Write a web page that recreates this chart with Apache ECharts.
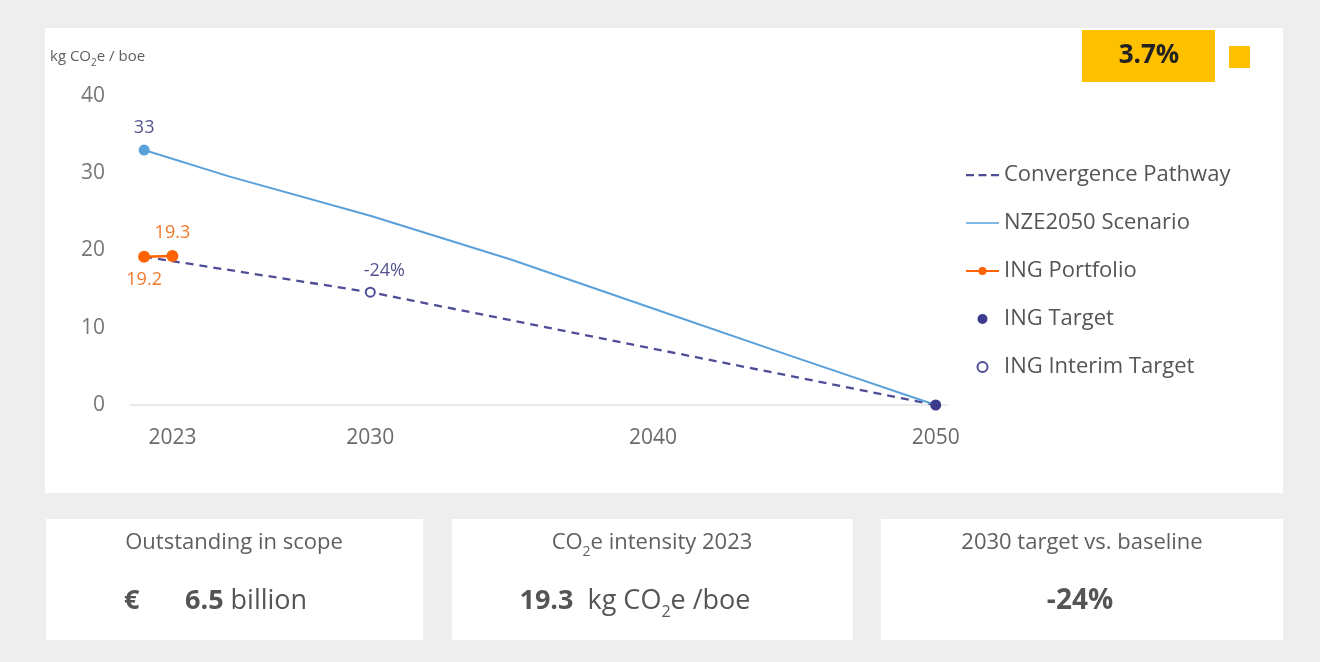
<!DOCTYPE html>
<html>
<head>
<meta charset="utf-8">
<script src="https://cdn.jsdelivr.net/npm/echarts@6/dist/echarts.min.js"></script>
<style>
  html, body { margin: 0; padding: 0; background: #eeeeee; }
  #chart { width: 1320px; height: 662px; }
</style>
</head>
<body>
<div id="chart"></div>
<script>
// ---- data ----
const xTicks = [2023, 2030, 2040, 2050];
const convergenceYears = [2022, 2030, 2050];
const convergenceValues = [19.2, 14.6, 0];
const nzeYears = [2022, 2025, 2030, 2035, 2040, 2045, 2050];
const nzeValues = [33, 29.6, 24.5, 18.8, 12.5, 6.2, 0];
const portfolioYears = [2022, 2023];
const portfolioValues = [19.2, 19.3];
const targetYear = 2050;
const targetValue = 0;
const interimYear = 2030;
const interimValue = 14.6;
const outstandingBn = 6.5;
const badgeText = '3.7%';

const FONT = '"Open Sans", "Noto Sans", sans-serif';
const PURPLE = '#4f4d97';
const DARK_PURPLE = '#3d3b8e';
const BLUE = '#5aa0da';
const ORANGE = '#ff6200';
const GREY_TXT = '#5f5f5f';
const LABEL_PURPLE = '#55548f';

const baseline = portfolioValues[0];
const interimChange = Math.round((interimValue - baseline) / baseline * 100);
const latestIntensity = portfolioValues[portfolioValues.length - 1];

const pair = (xs, ys) => xs.map((x, i) => [x, ys[i]]);

// legend glyphs: invisible move-to points keep the 0..10 height box
const dashIcon = 'path://M0,0M0,10M0,4h8v2.2h-8zM12.5,4h8v2.2h-8zM25,4h8v2.2h-8z';
const solidIcon = 'path://M0,0M0,10M0,4.3h33v1.5h-33z';

const chart = echarts.init(document.getElementById('chart'), null, { renderer: 'canvas' });

const VAL_SIZE = 27;

const option = {
  backgroundColor: 'transparent',
  animation: false,
  textStyle: { fontFamily: FONT },
  graphic: [
    // panels
    { type: 'rect', shape: { x: 45, y: 28, width: 1238, height: 465 }, style: { fill: '#ffffff' }, z: -10 },
    { type: 'rect', shape: { x: 46, y: 519, width: 377, height: 121 }, style: { fill: '#ffffff' }, z: -10 },
    { type: 'rect', shape: { x: 452, y: 519, width: 401, height: 121 }, style: { fill: '#ffffff' }, z: -10 },
    { type: 'rect', shape: { x: 881, y: 519, width: 402, height: 121 }, style: { fill: '#ffffff' }, z: -10 },
    // badge
    { type: 'rect', shape: { x: 1082, y: 30, width: 133, height: 52 }, style: { fill: '#ffc000' } },
    { type: 'rect', shape: { x: 1229, y: 46, width: 21, height: 22 }, style: { fill: '#ffc000' } },
    { type: 'text', x: 1149, y: 56, style: { text: badgeText, fontFamily: FONT, fontSize: 26, fontWeight: 'bold', fill: '#222', align: 'center', verticalAlign: 'middle' } },
    // axis unit
    { type: 'text', x: 50, y: 57, style: {
        text: 'kg CO{s|2}e / boe', fontFamily: FONT, fontSize: 15, fill: GREY_TXT, verticalAlign: 'middle',
        rich: { s: { fontFamily: FONT, fill: GREY_TXT, fontSize: 10, verticalAlign: 'bottom', padding: [0, 0, -4, 0] } } } },
    // summary boxes
    { type: 'text', x: 234, y: 543, style: { text: 'Outstanding in scope', fontFamily: FONT, fontSize: 22, fill: GREY_TXT, align: 'center', verticalAlign: 'middle' } },
    { type: 'text', x: 124, y: 601, style: { text: '€', fontFamily: FONT, fontSize: VAL_SIZE, fontWeight: 'bold', fill: '#555', verticalAlign: 'middle' } },
    { type: 'text', x: 185, y: 601, style: {
        text: '{b|' + outstandingBn.toFixed(1) + '} {r|billion}', fontFamily: FONT, fontSize: VAL_SIZE, fill: '#555', verticalAlign: 'middle',
        rich: { b: { fontFamily: FONT, fontSize: VAL_SIZE, fontWeight: 'bold', fill: '#555' }, r: { fontFamily: FONT, fontSize: VAL_SIZE, fill: '#555' } } } },
    { type: 'text', x: 652, y: 543, style: {
        text: 'CO{s|2}e intensity 2023', fontFamily: FONT, fontSize: 22, fill: GREY_TXT, align: 'center', verticalAlign: 'middle',
        rich: { s: { fontFamily: FONT, fill: GREY_TXT, fontSize: 14, verticalAlign: 'bottom', padding: [0, 0, -5, 0] } } } },
    { type: 'text', x: 635, y: 601, style: {
        text: '{b|' + latestIntensity.toFixed(1) + '}  {r|kg CO}{s|2}{r|e /boe}', fontFamily: FONT, fontSize: VAL_SIZE, fill: '#555', align: 'center', verticalAlign: 'middle',
        rich: {
          b: { fontFamily: FONT, fontSize: VAL_SIZE, fontWeight: 'bold', fill: '#555' },
          r: { fontFamily: FONT, fontSize: VAL_SIZE, fill: '#555' },
          s: { fontFamily: FONT, fontSize: 16, fill: '#555', verticalAlign: 'bottom', padding: [0, 0, -6, 0] } } } },
    { type: 'text', x: 1082, y: 543, style: { text: '2030 target vs. baseline', fontFamily: FONT, fontSize: 22, fill: GREY_TXT, align: 'center', verticalAlign: 'middle' } },
    { type: 'text', x: 1080, y: 601, style: { text: interimChange + '%', fontFamily: FONT, fontSize: VAL_SIZE + 1, fontWeight: 'bold', fill: '#555', align: 'center', verticalAlign: 'middle' } }
  ],
  grid: { left: 130, right: 373, top: 96, bottom: 257 },
  legend: {
    orient: 'vertical',
    left: 960,
    top: 158,
    itemWidth: 33,
    itemHeight: 10,
    itemGap: 24,
    textStyle: { fontFamily: FONT, fontSize: 22, color: '#555', lineHeight: 24 },
    data: [
      { name: 'Convergence Pathway', icon: dashIcon },
      { name: 'NZE2050 Scenario', icon: solidIcon },
      { name: 'ING Portfolio' },
      { name: 'ING Target' },
      { name: 'ING Interim Target' }
    ]
  },
  xAxis: {
    type: 'value',
    min: 2021.5,
    max: 2050.4,
    splitLine: { show: false },
    axisTick: { show: false },
    axisLine: { show: true, lineStyle: { color: '#e3e3e3', width: 1.5 } },
    axisLabel: { customValues: xTicks, fontSize: 21, color: '#6a6a6a', margin: 23, fontFamily: FONT,
      formatter: v => String(v) }
  },
  yAxis: {
    type: 'value',
    min: 0,
    max: 40,
    interval: 10,
    splitLine: { show: false },
    axisLine: { show: false },
    axisTick: { show: false },
    axisLabel: { fontSize: 21, color: '#777', margin: 25, fontFamily: FONT }
  },
  series: [
    {
      name: 'Convergence Pathway',
      type: 'line',
      symbol: 'none',
      data: pair(convergenceYears, convergenceValues),
      lineStyle: { color: PURPLE, width: 2.3, type: [8, 6] },
      itemStyle: { color: PURPLE },
      z: 2
    },
    {
      name: 'NZE2050 Scenario',
      type: 'line',
      symbol: 'none',
      data: pair(nzeYears, nzeValues),
      lineStyle: { color: BLUE, width: 2 },
      itemStyle: { color: BLUE },
      z: 3
    },
    {
      name: 'NZE start',
      type: 'scatter',
      symbolSize: 11,
      data: [[nzeYears[0], nzeValues[0]]],
      itemStyle: { color: BLUE, opacity: 1 },
      label: { show: true, position: 'top', distance: 8, fontSize: 18, color: LABEL_PURPLE, fontFamily: FONT,
        formatter: p => String(p.value[1]) },
      z: 4
    },
    {
      name: 'ING Portfolio',
      type: 'line',
      symbol: 'circle',
      symbolSize: 12,
      data: [
        { value: [portfolioYears[0], portfolioValues[0]], label: { position: 'bottom', distance: 8 } },
        { value: [portfolioYears[1], portfolioValues[1]], label: { position: 'top', distance: 8 } }
      ],
      lineStyle: { color: ORANGE, width: 2.5 },
      itemStyle: { color: ORANGE },
      label: { show: true, fontSize: 18, color: '#f07a2c', fontFamily: FONT,
        formatter: p => p.value[1].toFixed(1) },
      z: 5
    },
    {
      name: 'ING Target',
      type: 'scatter',
      symbol: 'circle',
      symbolSize: 11,
      data: [[targetYear, targetValue]],
      itemStyle: { color: DARK_PURPLE, opacity: 1 },
      z: 6
    },
    {
      name: 'ING Interim Target',
      type: 'scatter',
      symbol: 'emptyCircle',
      symbolSize: 9,
      data: [[interimYear, interimValue]],
      itemStyle: { color: PURPLE, borderWidth: 1.6, opacity: 1 },
      label: { show: true, position: 'top', distance: 7, offset: [14, 0], fontSize: 18, color: LABEL_PURPLE, fontFamily: FONT,
        formatter: () => interimChange + '%' },
      z: 6
    }
  ]
};

chart.setOption(option);
</script>
</body>
</html>
